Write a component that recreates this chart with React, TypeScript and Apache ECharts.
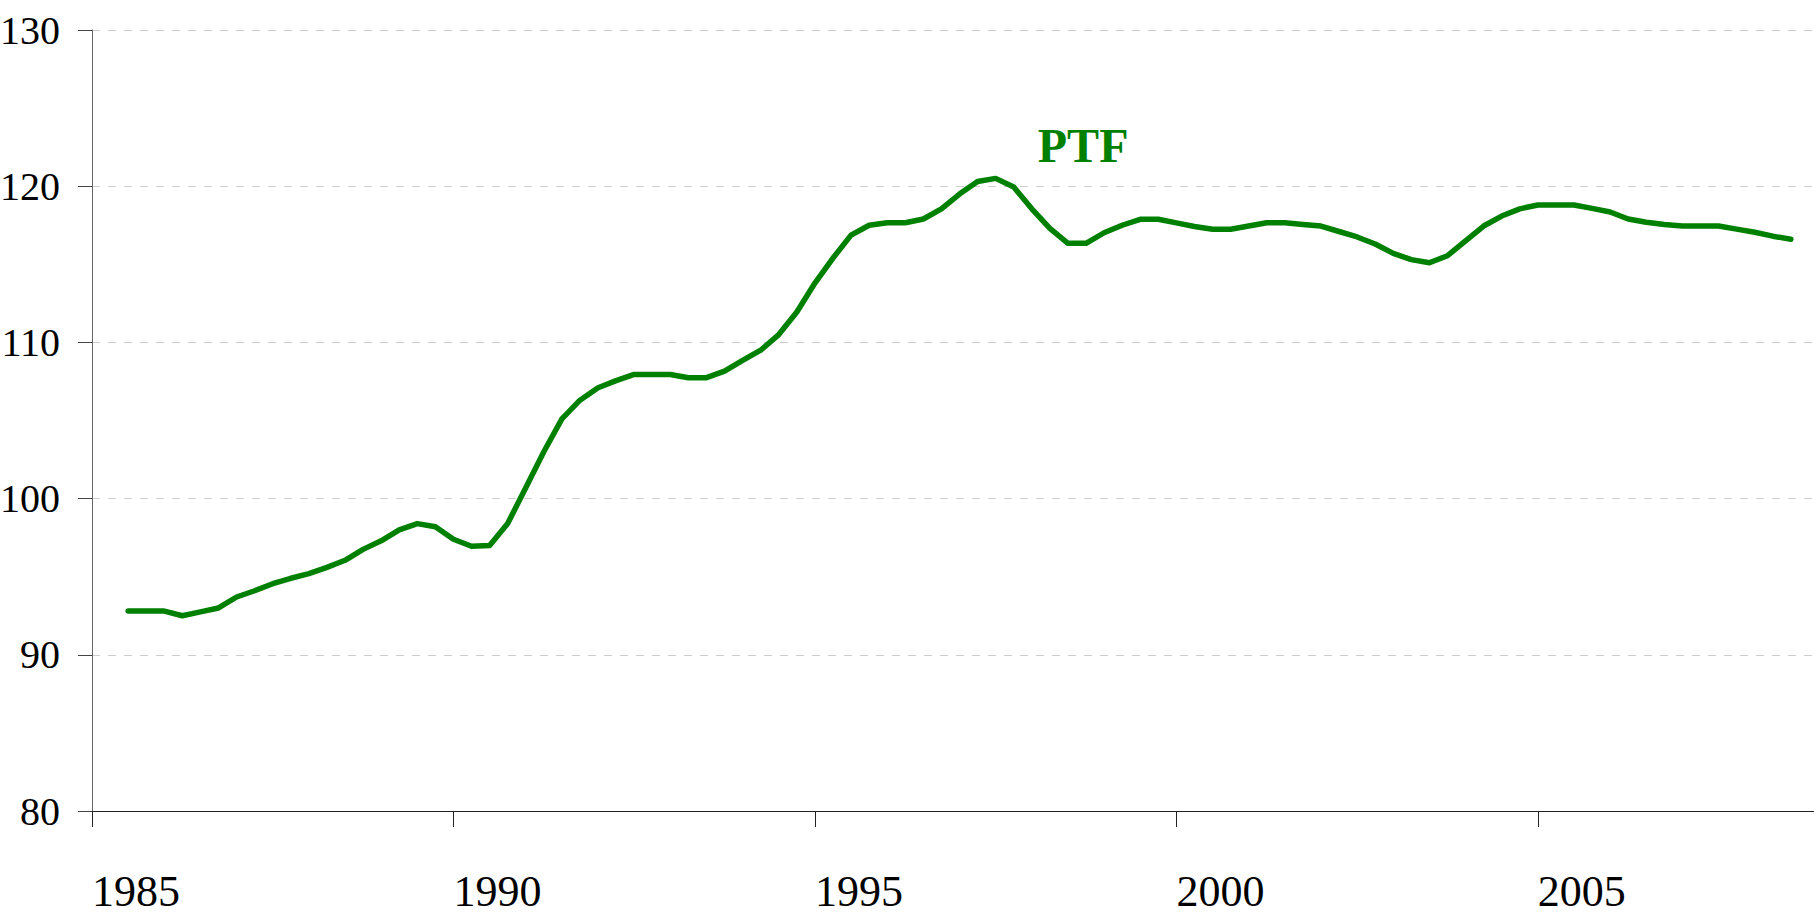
import React, { useEffect, useRef } from "react";
import * as echarts from "echarts";

// Quarterly time points (decimal years)
const quarters: number[] = [
  1985.5, 1985.75, 1986.0, 1986.25, 1986.5, 1986.75, 1987.0, 1987.25, 1987.5, 1987.75,
  1988.0, 1988.25, 1988.5, 1988.75, 1989.0, 1989.25, 1989.5, 1989.75, 1990.0, 1990.25,
  1990.5, 1990.75, 1991.0, 1991.25, 1991.5, 1991.75, 1992.0, 1992.25, 1992.5, 1992.75,
  1993.0, 1993.25, 1993.5, 1993.75, 1994.0, 1994.25, 1994.5, 1994.75, 1995.0, 1995.25,
  1995.5, 1995.75, 1996.0, 1996.25, 1996.5, 1996.75, 1997.0, 1997.25, 1997.5, 1997.75,
  1998.0, 1998.25, 1998.5, 1998.75, 1999.0, 1999.25, 1999.5, 1999.75, 2000.0, 2000.25,
  2000.5, 2000.75, 2001.0, 2001.25, 2001.5, 2001.75, 2002.0, 2002.25, 2002.5, 2002.75,
  2003.0, 2003.25, 2003.5, 2003.75, 2004.0, 2004.25, 2004.5, 2004.75, 2005.0, 2005.25,
  2005.5, 2005.75, 2006.0, 2006.25, 2006.5, 2006.75, 2007.0, 2007.25, 2007.5, 2007.75,
  2008.0, 2008.25, 2008.5,
];

// PTF index values
const ptf: number[] = [
  92.8, 92.8, 92.8, 92.5, 92.75, 93.0, 93.7, 94.1, 94.55, 94.9,
  95.2, 95.6, 96.05, 96.75, 97.3, 98.0, 98.4, 98.2, 97.4, 96.95,
  97.0, 98.4, 100.7, 103.0, 105.1, 106.3, 107.1, 107.55, 107.95, 107.95,
  107.95, 107.74, 107.74, 108.16, 108.85, 109.5, 110.5, 111.95, 113.8, 115.4,
  116.87, 117.5, 117.66, 117.66, 117.9, 118.55, 119.5, 120.3, 120.5, 119.95,
  118.55, 117.3, 116.34, 116.34, 117.02, 117.5, 117.88, 117.88, 117.65, 117.42,
  117.24, 117.24, 117.45, 117.66, 117.66, 117.55, 117.45, 117.1, 116.75, 116.3,
  115.7, 115.3, 115.1, 115.55, 116.5, 117.45, 118.09, 118.55, 118.8, 118.8,
  118.8, 118.58, 118.35, 117.9, 117.69, 117.55, 117.45, 117.45, 117.45, 117.25,
  117.05, 116.8, 116.6,
];

const seriesName = "PTF";
const labelAnchor: [number, number] = [1998.71, 122.6];

const yMin = 80;
const yMax = 130;
const yStep = 10;
const xMin = 1985;
const xMax = 2008.82;
const xStep = 5;

export default function App() {
  const ref = useRef<HTMLDivElement>(null);

  useEffect(() => {
    if (!ref.current) return;
    const chart = echarts.init(ref.current, null, { renderer: "svg" });
    const font = "'Liberation Serif', 'Times New Roman', serif";
    chart.setOption({
      animation: false,
      backgroundColor: "#ffffff",
      grid: {
        left: 92,
        right: 0,
        top: 30,
        bottom: 110,
        containLabel: false,
        outerBoundsMode: "none",
      },
      xAxis: {
        type: "value",
        min: xMin,
        max: xMax,
        interval: xStep,
        axisLine: { show: true, lineStyle: { color: "#222", width: 1.2 } },
        axisTick: { show: true, length: 16, lineStyle: { color: "#222", width: 1 } },
        splitLine: { show: false },
        axisLabel: {
          show: true,
          showMaxLabel: false,
          margin: 58,
          align: "left",
          color: "#000",
          fontFamily: font,
          fontSize: 44,
          formatter: (v: number) => (Math.abs(v % xStep) < 1e-6 ? String(v) : ""),
        },
      },
      yAxis: {
        type: "value",
        min: yMin,
        max: yMax,
        interval: yStep,
        axisLine: { show: true, lineStyle: { color: "#666", width: 1 } },
        axisTick: { show: true, length: 14, lineStyle: { color: "#444", width: 1 } },
        splitLine: { show: true, lineStyle: { color: "#cccccc", type: [8, 8], width: 1 } },
        axisLabel: {
          margin: 32,
          color: "#000",
          fontFamily: font,
          fontSize: 40,
        },
      },
      series: [
        {
          name: seriesName,
          type: "line",
          data: quarters.map((q, i) => [q, ptf[i]]),
          showSymbol: false,
          symbol: "none",
          lineStyle: { color: "#008000", width: 5.5, cap: "round", join: "round" },
          markPoint: {
            symbol: "circle",
            symbolSize: 0,
            data: [{ coord: labelAnchor }],
            label: {
              show: true,
              position: "inside",
              formatter: seriesName,
              color: "#008000",
              fontFamily: font,
              fontWeight: "bold",
              fontSize: 48,
            },
          },
        },
      ],
    });
    return () => chart.dispose();
  }, []);

  return (
    <div
      ref={ref}
      style={{ position: "absolute", left: 0, top: 0, width: 1814, height: 921 }}
    />
  );
}
